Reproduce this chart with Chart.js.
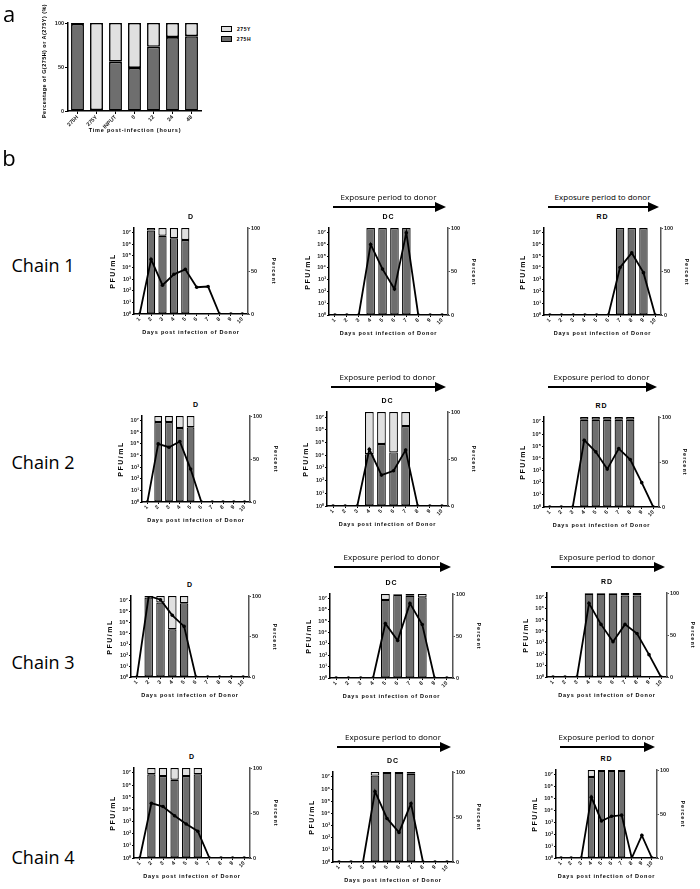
<!DOCTYPE html>
<html>
<head>
<meta charset="utf-8">
<script src="https://cdn.jsdelivr.net/npm/chart.js@4.4.0/dist/chart.umd.min.js"></script>
<style>
body{margin:0;background:#fff;width:700px;height:889px;position:relative;overflow:hidden;font-family:"Liberation Sans",Arial,sans-serif;}
canvas{position:absolute;}
.t{position:absolute;white-space:nowrap;color:#000;line-height:1;}
.arrow{position:absolute;height:2px;background:#000;}
.head{position:absolute;width:0;height:0;border-top:5px solid transparent;border-bottom:5px solid transparent;border-left:11px solid #000;}
</style>
</head>
<body>
<script>
// panel a
const aCats = ['275H','275Y','INPUT','0','12','24','48'];
const a275H = [99, 1, 56, 49, 73, 84, 85];
const a275Y = [1, 99, 44, 51, 27, 16, 15];

// panel b
const days = ['1','2','3','4','5','6','7','8','9','10'];
const logTicks = [1,10,100,1e3,1e4,1e5,1e6,1e7];
const pctTicks = [0,50,100];

// chain 1
const c1D_H  = [null,97,91,88,86,null,null,null,null,null];
const c1D_Y  = [null,3,9,12,14,null,null,null,null,null];
const c1D_pfu = [1,5e4,300,2600,7000,200,230,1,1,1];
const c1DC_H = [null,null,null,100,100,100,100,null,null,null];
const c1DC_Y = [null,null,null,0,0,0,0,null,null,null];
const c1DC_pfu = [1,1,1,1e6,8000,160,1e7,1,1,1];
const c1RD_H = [null,null,null,null,null,null,100,100,100,null];
const c1RD_Y = [null,null,null,null,null,null,0,0,0,null];
const c1RD_pfu = [1,1,1,1,1,1,11000,190000,4000,1];

// chain 2
const c2D_H  = [null,93,93,86,87,null,null,null,null,null];
const c2D_Y  = [null,7,7,14,13,null,null,null,null,null];
const c2D_pfu = [1,1e5,5.2e4,1.6e5,680,1,1,1,1,1];
const c2DC_H = [null,null,null,55,66,57,85,null,null,null];
const c2DC_Y = [null,null,null,45,34,43,15,null,null,null];
const c2DC_pfu = [1,1,1,2.9e4,270,590,2.5e4,1,1,1];
const c2RD_H = [null,null,null,97,97,97,97,97,null,null];
const c2RD_Y = [null,null,null,3,3,3,3,3,null,null];
const c2RD_pfu = [1,1,1,3.1e5,3.4e4,1300,6.3e4,8000,100,1];

// chain 3
const c3D_H  = [null,98,92,59,91,null,null,null,null,null];
const c3D_Y  = [null,2,8,41,9,null,null,null,null,null];
const c3D_pfu = [1,2.5e7,1.15e7,4.3e5,4.2e4,1,1,1,1,1];
const c3DC_H = [null,null,null,null,93,99,98,96,null,null];
const c3DC_Y = [null,null,null,null,7,1,2,4,null,null];
const c3DC_pfu = [1,1,1,1,6.3e4,2000,3.7e6,5.1e4,1,1];
const c3RD_H = [null,null,null,99,99,99,97,97,null,null];
const c3RD_Y = [null,null,null,1,1,1,3,3,null,null];
const c3RD_pfu = [1,1,1,3.1e6,4.3e4,1300,4.3e4,6800,93,1];

// chain 4
const c4D_H  = [null,93,91,87,91,93,null,null,null,null];
const c4D_Y  = [null,7,9,13,9,7,null,null,null,null];
const c4D_pfu = [1,3.2e4,1.7e4,3000,620,160,1,1,1,1];
const c4DC_H = [null,null,null,96,99,99,98,null,null,null];
const c4DC_Y = [null,null,null,4,1,1,2,null,null,null];
const c4DC_pfu = [1,1,1,6.3e5,3800,270,6.3e4,1,1,1];
const c4RD_H = [null,null,null,92,99,99,99,null,null,null];
const c4RD_Y = [null,null,null,8,1,1,1,null,null,null];
const c4RD_pfu = [1,1,1,1.3e5,1300,3200,4000,1,80,1];

const dark = '#6e6e6e';
const light = '#e0e0e0';
const sup = ['\u2070','\u00b9','\u00b2','\u00b3','\u2074','\u2075','\u2076','\u2077'];
const tickFont = {family:'Liberation Sans', size:5.5, weight:'bold'};

function txt(s, x, y, css, rot){
  const d = document.createElement('div');
  d.className = 't';
  d.textContent = s;
  d.style.cssText += css;
  d.style.left = x + 'px';
  d.style.top = y + 'px';
  d.style.transform = 'translate(-50%,-50%)' + (rot ? ' rotate(' + rot + 'deg)' : '');
  document.body.appendChild(d);
}

function arrow(x1, x2, y){
  const l = document.createElement('div');
  l.className = 'arrow';
  l.style.left = x1 + 'px'; l.style.top = (y-1) + 'px'; l.style.width = (x2-x1-10) + 'px';
  document.body.appendChild(l);
  const h = document.createElement('div');
  h.className = 'head';
  h.style.left = (x2-11) + 'px'; h.style.top = (y-5) + 'px';
  document.body.appendChild(h);
}

function canvasAt(L, T, w, h){
  const cv = document.createElement('canvas');
  cv.width = w; cv.height = h;
  cv.style.left = L + 'px'; cv.style.top = T + 'px';
  cv.style.width = w + 'px'; cv.style.height = h + 'px';
  document.body.appendChild(cv);
  return cv;
}

function barSet(data, color){
  return {data:data, yAxisID:'yP', backgroundColor:color, borderColor:'#000', borderWidth:1.2,
    borderSkipped:false, barPercentage:0.72, categoryPercentage:1, order:1};
}

function smallChart(b, H, Y, pfu){
  const padL = 24, padR = 20, padT = 6, padB = 14;
  const w = b.R - b.L + padL + padR, h = b.B - b.T + padT + padB;
  const cv = canvasAt(b.L - padL, b.T - padT, w, h);
  new Chart(cv, {
    type:'bar',
    data:{labels:days, datasets:[
      {type:'line', data:pfu, yAxisID:'yL', borderColor:'#000', borderWidth:1.8, pointRadius:1.8,
       pointBackgroundColor:'#000', pointBorderWidth:0, tension:0, order:0},
      barSet(H, dark),
      barSet(Y, light)
    ]},
    options:{
      responsive:false, animation:false,
      plugins:{legend:{display:false}, tooltip:{enabled:false}},
      layout:{padding:{top:padT, left:0, right:0, bottom:0}},
      scales:{
        x:{stacked:true, offset:true,
           grid:{offset:false, drawOnChartArea:false, tickLength:2, color:'#000'},
           border:{color:'#000', width:1.5},
           ticks:{font:tickFont, color:'#222', minRotation:45, maxRotation:45, padding:0, autoSkip:false},
           afterFit:s=>{s.height = padB;}},
        yL:{type:'logarithmic', position:'left', min:1, max:2.5e7,
            afterBuildTicks:s=>{s.ticks = logTicks.map(v=>({value:v}));},
            grid:{drawOnChartArea:false, tickLength:2, color:'#000'},
            border:{color:'#000', width:1.5},
            ticks:{font:tickFont, color:'#222', padding:1,
                   callback:v=>'10' + sup[Math.round(Math.log10(v))]},
            afterFit:s=>{s.width = padL;}},
        yP:{position:'right', stacked:true, min:0, max:100,
            afterBuildTicks:s=>{s.ticks = pctTicks.map(v=>({value:v}));},
            grid:{drawOnChartArea:false, tickLength:2, color:'#555'},
            border:{color:'#555', width:1.5},
            ticks:{font:tickFont, color:'#222', padding:1},
            afterFit:s=>{s.width = padR;}}
      }
    }
  });
}

// ---- panel a ----
(function(){
  const L = 68, R = 201, T = 23, B = 111, padL = 20, padR = 4, padT = 6, padB = 18;
  const cv = canvasAt(L - padL, T - padT, R - L + padL + padR, B - T + padT + padB);
  new Chart(cv, {
    type:'bar',
    data:{labels:aCats, datasets:[
      {data:a275H, backgroundColor:dark, borderColor:'#000', borderWidth:1.6, borderSkipped:false, barPercentage:0.68, categoryPercentage:1},
      {data:a275Y, backgroundColor:light, borderColor:'#000', borderWidth:1.6, borderSkipped:false, barPercentage:0.68, categoryPercentage:1}
    ]},
    options:{
      responsive:false, animation:false,
      plugins:{legend:{display:false}, tooltip:{enabled:false}},
      layout:{padding:{top:padT, left:0, right:padR, bottom:0}},
      scales:{
        x:{stacked:true, grid:{offset:false, drawOnChartArea:false, tickLength:3, color:'#000'},
           border:{color:'#000', width:1.5},
           ticks:{font:tickFont, color:'#222', minRotation:45, maxRotation:45, padding:0, autoSkip:false},
           afterFit:s=>{s.height = padB;}},
        y:{stacked:true, min:0, max:100,
           afterBuildTicks:s=>{s.ticks = pctTicks.map(v=>({value:v}));},
           grid:{drawOnChartArea:false, tickLength:3, color:'#000'},
           border:{color:'#000', width:1.5},
           ticks:{font:tickFont, color:'#222', padding:1},
           afterFit:s=>{s.width = padL;}}
      }
    }
  });
  txt('Percentage of G(275H) or A(275Y) (%)', 45, 61, 'font-size:5.5px;font-weight:bold;letter-spacing:0.45px;', -90);
  txt('Time post-infection (hours)', 135, 131, 'font-size:5.5px;font-weight:bold;letter-spacing:0.8px;');
  // legend
  const lg = [[light,'275Y',29],[dark,'275H',39]];
  lg.forEach(([c, s, y])=>{
    const d = document.createElement('div');
    d.style.cssText = 'position:absolute;left:221px;width:9px;height:4px;border:1.2px solid #000;background:' + c + ';top:' + (y-3) + 'px';
    document.body.appendChild(d);
    txt(s, 244, y, 'font-size:5px;font-weight:bold;letter-spacing:0.6px;');
  });
})();

txt('a', 9, 13, 'font-size:22px;font-family:"Open Sans",sans-serif;');
txt('b', 9, 157, 'font-size:22px;font-family:"Open Sans",sans-serif;');

// ---- panel b layout ----
const rows = [
  {chain:'Chain 1', labelY:265, arrowY:207, charts:[
    {name:'D',  L:134, R:248, T:228, B:314, H:c1D_H, Y:c1D_Y, pfu:c1D_pfu},
    {name:'DC', L:329, R:448, T:228, B:315, H:c1DC_H, Y:c1DC_Y, pfu:c1DC_pfu},
    {name:'RD', L:544, R:661, T:228, B:315, H:c1RD_H, Y:c1RD_Y, pfu:c1RD_pfu}]},
  {chain:'Chain 2', labelY:462, arrowY:387, charts:[
    {name:'D',  L:142, R:250, T:416, B:502, H:c2D_H, Y:c2D_Y, pfu:c2D_pfu},
    {name:'DC', L:327, R:448, T:412, B:506, H:c2DC_H, Y:c2DC_Y, pfu:c2DC_pfu},
    {name:'RD', L:544, R:659, T:417, B:507, H:c2RD_H, Y:c2RD_Y, pfu:c2RD_pfu}]},
  {chain:'Chain 3', labelY:662, arrowY:567, charts:[
    {name:'D',  L:131, R:249, T:596, B:677, H:c3D_H, Y:c3D_Y, pfu:c3D_pfu},
    {name:'DC', L:330, R:453, T:594, B:678, H:c3DC_H, Y:c3DC_Y, pfu:c3DC_pfu},
    {name:'RD', L:547, R:667, T:593, B:677, H:c3RD_H, Y:c3RD_Y, pfu:c3RD_pfu}]},
  {chain:'Chain 4', labelY:857, arrowY:747, charts:[
    {name:'D',  L:134, R:250, T:768, B:858, H:c4D_H, Y:c4D_Y, pfu:c4D_pfu},
    {name:'DC', L:333, R:453, T:772, B:862, H:c4DC_H, Y:c4DC_Y, pfu:c4DC_pfu},
    {name:'RD', L:556, R:657, T:770, B:858, H:c4RD_H, Y:c4RD_Y, pfu:c4RD_pfu}]}
];

rows.forEach(row=>{
  txt(row.chain, 43, row.labelY, 'font-size:18px;font-family:"Open Sans",sans-serif;');
  row.charts.forEach(c=>{
    smallChart(c, c.H, c.Y, c.pfu);
    const cx = (c.L + c.R) / 2;
    txt(c.name, cx, c.T - 12, 'font-size:7px;font-weight:bold;letter-spacing:1px;');
    if (c.name !== 'D') {
      arrow(c.L + 4, c.R - 2, row.arrowY);
      txt('Exposure period to donor', cx, row.arrowY - 10, 'font-size:8px;font-family:"Open Sans",sans-serif;');
    }
    txt('PFU/mL', c.L - 22, (c.T + c.B) / 2, 'font-size:7px;font-weight:bold;letter-spacing:1.5px;', -90);
    txt('Percent', c.R + 25, (c.T + c.B) / 2, 'font-size:5.5px;font-weight:bold;letter-spacing:1px;', 90);
    txt('Days post infection of Donor', cx, c.B + 19, 'font-size:5.5px;font-weight:bold;letter-spacing:0.8px;');
  });
});
</script>
</body>
</html>
